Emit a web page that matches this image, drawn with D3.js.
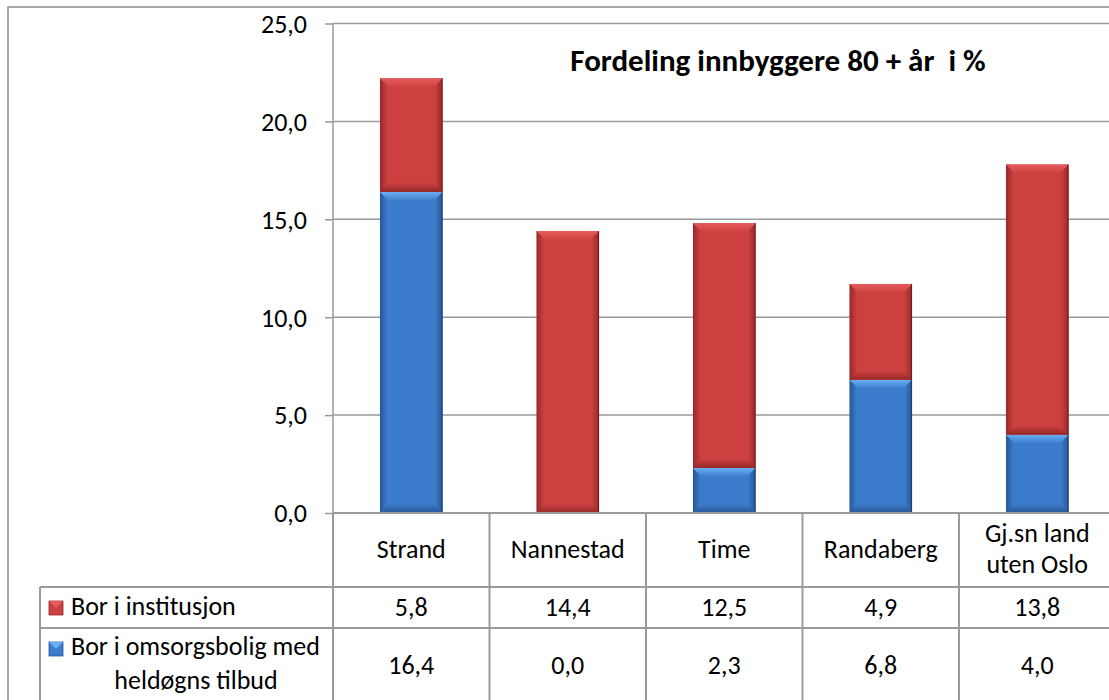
<!DOCTYPE html>
<html><head><meta charset="utf-8">
<script src="https://cdn.jsdelivr.net/npm/d3@7"></script>
<style>
html,body{margin:0;padding:0;background:#fff;}
svg{display:block;font-family:Carlito, Lato, "Liberation Sans", sans-serif;}
</style></head>
<body>
<svg id="c" width="1109" height="700"></svg>
<script>
const categories = ["Strand", "Nannestad", "Time", "Randaberg", "Gj.sn land uten Oslo"];
const categoryLines = [["Strand"], ["Nannestad"], ["Time"], ["Randaberg"], ["Gj.sn land", "uten Oslo"]];
const institusjon = [5.8, 14.4, 12.5, 4.9, 13.8];
const omsorgsbolig = [16.4, 0.0, 2.3, 6.8, 4.0];
const seriesNames = ["Bor i institusjon", "Bor i omsorgsbolig med heldøgns tilbud"];
const yTicks = [0, 5, 10, 15, 20, 25];
const title = "Fordeling innbyggere 80 + år  i %";

const svg = d3.select("#c");
const fmt = v => d3.format(".1f")(v).replace(".", ",");
const FS = 26;

const plotLeft = 333, colW = 156.5;
const x = d3.scaleBand().domain(categories).range([plotLeft, plotLeft + colW * categories.length]).paddingInner(0.6).paddingOuter(0.3);
const xCol = d3.scaleBand().domain(categories).range([plotLeft, plotLeft + colW * categories.length]);
const y = d3.scaleLinear().domain([0, 25]).range([513, 23.5]);

const defs = svg.append("defs");
function grad(id, stops, horiz) {
  const g = defs.append("linearGradient").attr("id", id)
    .attr("x1", 0).attr("y1", 0).attr("x2", horiz ? 1 : 0).attr("y2", horiz ? 0 : 1);
  stops.forEach(s => g.append("stop").attr("offset", s[0]).attr("stop-color", s[1]));
}
const pal = {
  red: {main: "#cc4040", light: "#e65c5c", dark: "#962828", edge: "#6e1c1c"},
  blue: {main: "#3c7ccc", light: "#6aaef2", dark: "#275692", edge: "#1c3f6e"}
};
Object.entries(pal).forEach(([k, c]) => {
  grad(k + "H", [[0, c.dark], [0.12, c.main], [0.5, c.main], [0.88, c.main], [1, c.dark]], true);
  grad(k + "T", [[0, c.light], [1, c.main]], false);
  grad(k + "B", [[0, c.main], [1, c.dark]], false);
});

// outer chart border
svg.append("rect").attr("x", 8).attr("y", 7).attr("width", 1200).attr("height", 800)
  .attr("fill", "none").attr("stroke", "#8c8c8c").attr("stroke-width", 1.5);

// gridlines
svg.append("g").selectAll("line").data(yTicks.filter(d => d > 0)).join("line")
  .attr("x1", plotLeft).attr("x2", 1120).attr("y1", d => y(d)).attr("y2", d => y(d))
  .attr("stroke", "#9a9a9a").attr("stroke-width", 1.5);

// y axis
const yAxis = d3.axisLeft(y).tickValues(yTicks).tickFormat(fmt).tickSize(8).tickPadding(18);
const ga = svg.append("g").attr("transform", `translate(${plotLeft},0)`).call(yAxis);
ga.attr("font-family", null).attr("font-size", null);
ga.select(".domain").attr("stroke", "#9a9a9a").attr("stroke-width", 1.5).attr("d", `M0,${y(25)}V${y(0)}`);
ga.selectAll(".tick line").attr("stroke", "#9a9a9a").attr("stroke-width", 1.5);
ga.selectAll(".tick text").attr("font-size", FS).attr("fill", "#000").attr("dy", "0.34em");

// bars
const stackData = categories.map((c, i) => ({c, segs: [
  {key: "blue", y0: 0, y1: omsorgsbolig[i]},
  {key: "red", y0: omsorgsbolig[i], y1: omsorgsbolig[i] + institusjon[i]}
]}));
const bw = x.bandwidth();
const bars = svg.append("g");
stackData.forEach(d => {
  d.segs.forEach(s => {
    if (s.y1 - s.y0 <= 0) return;
    const x0 = x(d.c), top = y(s.y1), bot = y(s.y0), h = bot - top;
    const g = bars.append("g");
    const bev = Math.min(9, h / 3);
    g.append("rect").attr("x", x0).attr("y", top).attr("width", bw).attr("height", h).attr("fill", `url(#${s.key}H)`);
    g.append("path").attr("d", `M${x0},${top}H${x0 + bw}L${x0 + bw - bev},${top + bev}H${x0 + bev}Z`).attr("fill", `url(#${s.key}T)`);
    g.append("path").attr("d", `M${x0},${bot}H${x0 + bw}L${x0 + bw - bev},${bot - bev}H${x0 + bev}Z`).attr("fill", `url(#${s.key}B)`);
    g.append("line").attr("x1", x0 + bw - 0.5).attr("x2", x0 + bw - 0.5).attr("y1", top).attr("y2", bot).attr("stroke", pal[s.key].edge).attr("stroke-width", 1);
  });
});

// table
const tableRight = 1120;
const lineC = "#9a9a9a";
const tg = svg.append("g");
tg.append("line").attr("x1", plotLeft).attr("x2", tableRight).attr("y1", y(0)).attr("y2", y(0)).attr("stroke", lineC).attr("stroke-width", 2);
[587, 628].forEach(yy => tg.append("line").attr("x1", 40).attr("x2", tableRight).attr("y1", yy).attr("y2", yy).attr("stroke", lineC).attr("stroke-width", 2));
tg.append("line").attr("x1", 40).attr("x2", 40).attr("y1", 587).attr("y2", 720).attr("stroke", lineC).attr("stroke-width", 2);
d3.range(categories.length + 1).forEach(i => {
  const xx = plotLeft + i * colW;
  tg.append("line").attr("x1", xx).attr("x2", xx).attr("y1", y(0)).attr("y2", 720).attr("stroke", lineC).attr("stroke-width", 2);
});
// header
categories.forEach((c, i) => {
  const lines = categoryLines[i];
  const cx = xCol(c) + colW / 2;
  const t = tg.append("text").attr("x", cx).attr("text-anchor", "middle").attr("font-size", FS).attr("fill", "#000");
  const y0 = lines.length === 1 ? 558 : 542;
  lines.forEach((l, j) => t.append("tspan").attr("x", cx).attr("y", y0 + j * 31).text(l));
});
// values
const rowsY = [616, 674];
[institusjon, omsorgsbolig].forEach((arr, r) => {
  arr.forEach((v, i) => {
    tg.append("text").attr("x", xCol(categories[i]) + colW / 2).attr("y", rowsY[r]).attr("text-anchor", "middle")
      .attr("font-size", FS).attr("fill", "#000").text(fmt(v));
  });
});
// legend keys
const keyG = svg.append("g");
[["red", 601], ["blue", 642]].forEach(([k, yy]) => {
  const c = pal[k];
  keyG.append("rect").attr("x", 49).attr("y", yy).attr("width", 14).attr("height", 14).attr("fill", c.main).attr("stroke", c.dark).attr("stroke-width", 0.8);
  keyG.append("path").attr("d", `M49,${yy}H63L56,${yy + 7}Z`).attr("fill", c.light);
});
keyG.append("text").attr("x", 71).attr("y", 615).attr("font-size", FS).text(seriesNames[0]);
keyG.append("text").attr("x", 71).attr("y", 655).attr("font-size", FS).text("Bor i omsorgsbolig med");
keyG.append("text").attr("x", 196).attr("y", 689).attr("text-anchor", "middle").attr("font-size", FS).text("heldøgns tilbud");

// title
svg.append("text").attr("x", 778).attr("y", 71).attr("text-anchor", "middle").attr("font-size", 31).attr("font-weight", "bold")
  .attr("fill", "#000").style("white-space", "pre").text(title);
</script>
</body></html>
